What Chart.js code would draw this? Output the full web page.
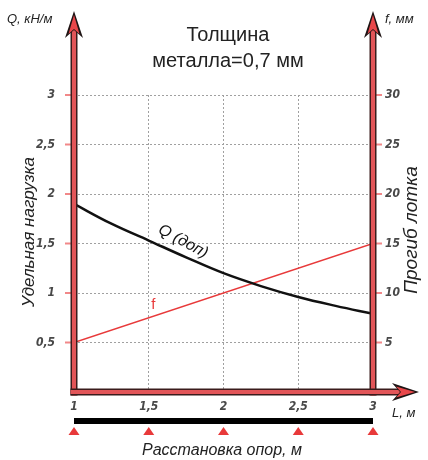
<!DOCTYPE html>
<html>
<head>
<meta charset="utf-8">
<script src="https://cdn.jsdelivr.net/npm/chart.js@4.4.1/dist/chart.umd.min.js"></script>
<style>
  html, body { margin: 0; padding: 0; background: #fff; }
</style>
</head>
<body>
<canvas id="chart" width="428" height="460"></canvas>
<script>
// span of supports L, m
const spans = [1, 1.25, 1.5, 1.75, 2, 2.25, 2.5, 2.75, 3];
// allowed load Q, kN/m
const loadQ = [1.9, 1.70, 1.53, 1.36, 1.20, 1.07, 0.96, 0.87, 0.79];
// deflection f, mm
const deflSpans = [1, 3];
const deflF = [5, 15];

const TEXT_FONT = '"Liberation Sans", Arial, sans-serif';
const TICK_FONT = '"DejaVu Sans Condensed", "Liberation Sans Narrow", sans-serif';
const RED = '#e8393a';

const comma = v => String(v).replace('.', ',');

function drawAxisLine(ctx, x1, y1, x2, y2) {
  ctx.save();
  ctx.lineCap = 'butt';
  ctx.strokeStyle = '#3a1c1c';
  ctx.lineWidth = 7;
  ctx.beginPath(); ctx.moveTo(x1, y1); ctx.lineTo(x2, y2); ctx.stroke();
  ctx.strokeStyle = '#e25558';
  ctx.lineWidth = 4;
  ctx.beginPath(); ctx.moveTo(x1, y1); ctx.lineTo(x2, y2); ctx.stroke();
  ctx.restore();
}

// barbed arrowhead, tip at (x, y), pointing along angle
function drawArrowHead(ctx, x, y, angle) {
  ctx.save();
  ctx.translate(x, y);
  ctx.rotate(angle);
  ctx.fillStyle = '#1e1414';
  ctx.beginPath();
  ctx.moveTo(0, 0);
  ctx.lineTo(-27, -9);
  ctx.lineTo(-19, 0);
  ctx.lineTo(-27, 9);
  ctx.closePath();
  ctx.fill();
  ctx.fillStyle = '#e8474a';
  ctx.beginPath();
  ctx.moveTo(-4, 0);
  ctx.lineTo(-23, -5.5);
  ctx.lineTo(-18, 0);
  ctx.lineTo(-23, 5.5);
  ctx.closePath();
  ctx.fill();
  ctx.restore();
}

const decorations = {
  id: 'decorations',
  afterDraw(chart) {
    const ctx = chart.ctx;
    const x = chart.scales.x, y = chart.scales.y;
    const left = x.getPixelForValue(1), right = x.getPixelForValue(3);
    const bottom = y.getPixelForValue(0);

    // red tick marks at grid levels
    ctx.save();
    ctx.strokeStyle = 'rgba(232,57,58,0.6)';
    ctx.lineWidth = 2;
    [0.5, 1, 1.5, 2, 2.5, 3].forEach(v => {
      const py = y.getPixelForValue(v);
      ctx.beginPath(); ctx.moveTo(left - 9, py); ctx.lineTo(left, py); ctx.stroke();
      ctx.beginPath(); ctx.moveTo(right, py); ctx.lineTo(right + 9, py); ctx.stroke();
    });
    ctx.restore();

    // axes with arrows
    drawAxisLine(ctx, left, bottom + 3.5, left, 30);
    drawAxisLine(ctx, right, bottom + 3.5, right, 30);
    drawAxisLine(ctx, left - 3.5, bottom, 402, bottom);
    drawArrowHead(ctx, left, 11, -Math.PI / 2);
    drawArrowHead(ctx, right, 11, -Math.PI / 2);
    drawArrowHead(ctx, 419, bottom, 0);

    // support bar and triangles
    ctx.save();
    ctx.fillStyle = '#000';
    ctx.fillRect(left, 418, right - left, 6);
    ctx.fillStyle = RED;
    spans.filter((s, i) => i % 2 === 0).forEach(s => {
      const px = x.getPixelForValue(s);
      ctx.beginPath();
      ctx.moveTo(px, 427);
      ctx.lineTo(px - 5.5, 435);
      ctx.lineTo(px + 5.5, 435);
      ctx.closePath();
      ctx.fill();
    });
    ctx.restore();

    // texts
    ctx.save();
    ctx.fillStyle = '#222';
    ctx.textBaseline = 'middle';
    ctx.textAlign = 'center';
    ctx.font = '20px ' + TEXT_FONT;
    ctx.fillText('Толщина', 228, 35);
    ctx.fillText('металла=0,7 мм', 228, 61);

    ctx.font = 'italic 13px ' + TEXT_FONT;
    ctx.textAlign = 'left';
    ctx.fillText('Q, кН/м', 7, 19);
    ctx.fillText('f, мм', 385, 19);
    ctx.fillText('L, м', 392, 413);

    ctx.font = 'italic 16px ' + TEXT_FONT;
    ctx.textAlign = 'center';
    ctx.fillText('Расстановка опор, м', 222, 451);

    ctx.font = 'italic 17px ' + TEXT_FONT;
    ctx.save();
    ctx.translate(29, 232);
    ctx.rotate(-Math.PI / 2);
    ctx.fillText('Удельная нагрузка', 0, 0);
    ctx.restore();
    ctx.font = 'italic 19px ' + TEXT_FONT;
    ctx.save();
    ctx.translate(412, 230);
    ctx.rotate(-Math.PI / 2);
    ctx.fillText('Прогиб лотка', 0, 0);
    ctx.restore();

    ctx.font = 'italic 16px ' + TEXT_FONT;
    ctx.save();
    ctx.translate(x.getPixelForValue(1.73), y.getPixelForValue(1.52));
    ctx.rotate(0.5);
    ctx.fillStyle = '#111';
    ctx.fillText('Q (доп)', 0, 0);
    ctx.restore();

    ctx.fillStyle = RED;
    ctx.font = '15px ' + TEXT_FONT;
    ctx.fillText('f', x.getPixelForValue(1.53), y.getPixelForValue(0.88));
    ctx.restore();
  }
};

const tickFont = { family: TICK_FONT, size: 12, style: 'italic', weight: 'bold' };
const dotted = { display: false, dash: [2, 2] };

new Chart(document.getElementById('chart'), {
  type: 'line',
  data: {
    datasets: [
      {
        label: 'Q (доп)',
        data: spans.map((s, i) => ({ x: s, y: loadQ[i] })),
        borderColor: '#111',
        borderWidth: 2.5,
        pointRadius: 0,
        tension: 0.4,
        yAxisID: 'y'
      },
      {
        label: 'f',
        data: deflSpans.map((s, i) => ({ x: s, y: deflF[i] })),
        borderColor: RED,
        borderWidth: 1.5,
        pointRadius: 0,
        yAxisID: 'y1'
      }
    ]
  },
  options: {
    responsive: false,
    animation: false,
    devicePixelRatio: 1,
    layout: { padding: { top: 95, left: 0, right: 0, bottom: 0 } },
    plugins: { legend: { display: false }, tooltip: { enabled: false } },
    scales: {
      x: {
        type: 'linear',
        min: 1, max: 3,
        afterFit: s => { s.height = 68; },
        ticks: { stepSize: 0.5, padding: 8, color: '#484848', font: tickFont, callback: v => comma(v) },
        grid: { color: '#a0a0a0', lineWidth: 1, drawTicks: false },
        border: dotted
      },
      y: {
        position: 'left',
        min: 0, max: 3,
        afterFit: s => { s.width = 74; },
        ticks: { stepSize: 0.5, padding: 19, color: '#484848', font: tickFont, callback: v => v === 0 ? '' : comma(v) },
        grid: { color: '#a0a0a0', lineWidth: 1, drawTicks: false },
        border: dotted
      },
      y1: {
        position: 'right',
        min: 0, max: 30,
        afterFit: s => { s.width = 55; },
        ticks: { stepSize: 5, padding: 12, color: '#484848', font: tickFont, callback: v => v === 0 ? '' : v },
        grid: { display: false, drawTicks: false },
        border: { display: false }
      }
    }
  },
  plugins: [decorations]
});
</script>
</body>
</html>
